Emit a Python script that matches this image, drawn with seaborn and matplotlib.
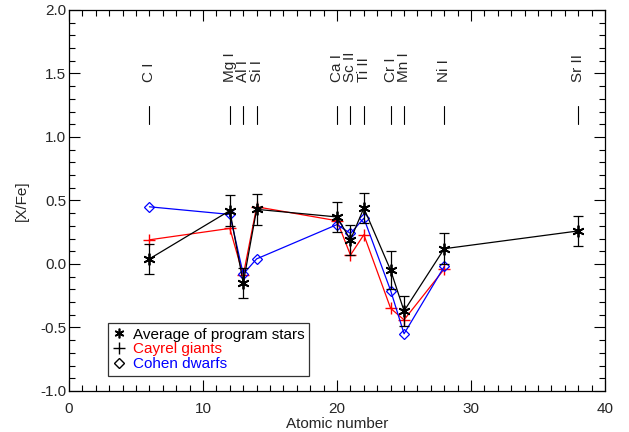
import numpy as np
import pandas as pd
import matplotlib
matplotlib.use("Agg")
import matplotlib.pyplot as plt
from matplotlib.ticker import MultipleLocator, FormatStrFormatter
from matplotlib.lines import Line2D
import seaborn as sns

# Elements and atomic numbers
species = ["C I", "Mg I", "Al I", "Si I", "Ca I", "Sc II", "Ti II", "Cr I", "Mn I", "Ni I", "Sr II"]
atomic_number = [6, 12, 13, 14, 20, 21, 22, 24, 25, 28, 38]

# Mean abundance ratios of the program stars, with errors
avg_xfe = [0.04, 0.42, -0.15, 0.43, 0.37, 0.19, 0.44, -0.05, -0.37, 0.12, 0.26]
avg_err = [0.12, 0.12, 0.12, 0.12, 0.12, 0.12, 0.12, 0.15, 0.12, 0.12, 0.12]

# Literature comparison samples (no Sr)
cayrel_z = [6, 12, 13, 14, 20, 21, 22, 24, 25, 28]
cayrel_xfe = [0.19, 0.28, -0.09, 0.45, 0.34, 0.07, 0.23, -0.35, -0.44, -0.04]
cohen_z = [6, 12, 13, 14, 20, 21, 22, 24, 25, 28]
cohen_xfe = [0.45, 0.39, -0.08, 0.04, 0.31, 0.24, 0.36, -0.21, -0.55, -0.02]

sns.set_style("ticks")
plt.rcParams["font.family"] = ["Liberation Sans", "DejaVu Sans"]

fig = plt.figure(figsize=(6.29, 4.32), dpi=100)
ax = fig.add_axes([0.1097, 0.095, 0.8523, 0.882])

avg_df = pd.DataFrame({"Z": atomic_number, "XFe": avg_xfe})
cay_df = pd.DataFrame({"Z": cayrel_z, "XFe": cayrel_xfe})
coh_df = pd.DataFrame({"Z": cohen_z, "XFe": cohen_xfe})

star = (6, 2, 0)
sns.lineplot(data=cay_df, x="Z", y="XFe", ax=ax, color="red", lw=0.9,
             marker="+", markersize=9, markeredgewidth=1.0, markeredgecolor="red",
             estimator=None, sort=False)
sns.lineplot(data=coh_df, x="Z", y="XFe", ax=ax, color="blue", lw=0.9,
             marker="D", markersize=5, markerfacecolor="none", markeredgecolor="blue",
             markeredgewidth=0.9, estimator=None, sort=False)
ax.errorbar(atomic_number, avg_xfe, yerr=avg_err, fmt="none", ecolor="black",
            elinewidth=0.9, capsize=3.5, capthick=0.9)
sns.lineplot(data=avg_df, x="Z", y="XFe", ax=ax, color="black", lw=0.9,
             marker=star, markersize=8.5, markeredgewidth=1.3, markeredgecolor="black",
             estimator=None, sort=False)

# Element identification marks
for z, name in zip(atomic_number, species):
    ax.plot([z, z], [1.10, 1.24], color="black", lw=0.8)
    ax.text(z, 1.43, name, rotation=90, ha="center", va="bottom", fontsize=11)

ax.set_xlim(0, 40)
ax.set_ylim(-1.0, 2.0)
ax.xaxis.set_major_locator(MultipleLocator(10))
ax.xaxis.set_minor_locator(MultipleLocator(1))
ax.yaxis.set_major_locator(MultipleLocator(0.5))
ax.yaxis.set_minor_locator(MultipleLocator(0.1))
ax.yaxis.set_major_formatter(FormatStrFormatter("%.1f"))
ax.tick_params(which="both", direction="in", top=True, right=True, labelsize=11,
               width=0.8, color="black")
ax.tick_params(which="major", length=8)
ax.tick_params(which="minor", length=4)
ax.tick_params(axis="x", pad=8)
ax.tick_params(axis="y", pad=2)
for s in ax.spines.values():
    s.set_linewidth(0.9)
    s.set_color("black")

ax.set_xlabel("Atomic number", fontsize=11, labelpad=1)
ax.set_ylabel("[X/Fe]", fontsize=11, labelpad=8)

handles = [
    Line2D([], [], ls="none", marker=star, color="black", markersize=7, markeredgewidth=1.2),
    Line2D([], [], ls="none", marker="+", color="black", markersize=8, markeredgewidth=1.0),
    Line2D([], [], ls="none", marker="D", color="black", markerfacecolor="none", markersize=5),
]
leg = ax.legend(handles, ["Average of program stars", "Cayrel giants", "Cohen dwarfs"],
                loc="upper left", bbox_to_anchor=(0.073, 0.178), frameon=True, fancybox=False,
                fontsize=11, handlelength=0.8, handletextpad=0.5, borderpad=0.3,
                labelspacing=0.05, borderaxespad=0)
leg.get_frame().set_edgecolor("black")
leg.get_frame().set_linewidth(0.9)
for t, c in zip(leg.get_texts(), ["black", "red", "blue"]):
    t.set_color(c)

fig.savefig("out.png", dpi=100)
